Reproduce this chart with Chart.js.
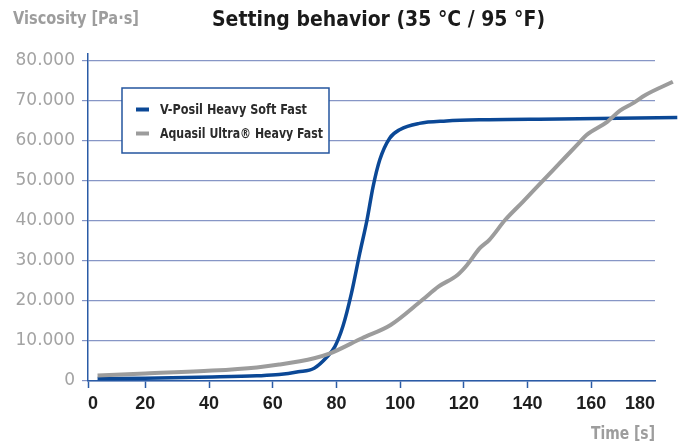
<!DOCTYPE html>
<html>
<head>
<meta charset="utf-8">
<script src="https://cdn.jsdelivr.net/npm/chart.js@4"></script>
<style>
  html, body { margin: 0; padding: 0; background: #fff; }
  canvas { display: block; }
</style>
</head>
<body>
<canvas id="graph" width="681" height="443"></canvas>
<script>
// values
const seriesNames = ['V-Posil Heavy Soft Fast', 'Aquasil Ultra® Heavy Fast'];

const vposilTime = [5, 20, 41, 55, 62, 68, 73, 77, 79.5, 82, 84.7, 87.3, 89.6, 91.5, 93.6, 96.7, 100, 106, 114.5, 125, 150, 187];
const vposilViscosity = [600, 700, 1000, 1300, 1600, 2300, 3200, 6000, 8600, 13600, 21900, 31900, 40300, 48600, 55300, 60700, 62900, 64400, 65000, 65300, 65500, 65900];

const aquasilTime = [5, 20, 41, 55, 62, 73, 78, 88, 97, 107, 112, 118, 121, 125, 128, 133, 138.5, 144, 150, 156, 158.5, 165, 169, 173, 177, 185.6];
const aquasilViscosity = [1400, 1900, 2600, 3400, 4100, 5700, 6900, 10700, 14000, 20300, 23600, 26500, 29000, 33200, 35300, 40300, 44800, 49400, 54400, 59400, 61500, 64800, 67600, 69400, 71500, 74800];

// the original axis starts a little after 0 but still labels it "0"
const xTickValues = [2, 20, 40, 60, 80, 100, 120, 140, 160, 180];
const xTickLabels = ['0', '20', '40', '60', '80', '100', '120', '140', '160', '180'];
const yTickValues = [0, 10000, 20000, 30000, 40000, 50000, 60000, 70000, 80000];

const BLUE = '#0b4896';
const GREY = '#9c9c9c';
const AXIS_BLUE = '#2a5ba6';
const GRID = '#8796c6';
const NARROW = '"Liberation Sans Narrow", "DejaVu Sans Condensed", sans-serif';

const fmtThousands = (v) => String(v).replace(/\B(?=(\d{3})+(?!\d))/g, '.');

// the original uses a condensed face; squeeze the text to the width it has there
function fitText(ctx, text, x, y, width, align) {
  const w = ctx.measureText(text).width;
  const sx = width / w;
  ctx.save();
  ctx.textAlign = 'left';
  ctx.translate(align === 'right' ? x - width : x, y);
  ctx.scale(sx, 1);
  ctx.fillText(text, 0, 0);
  ctx.restore();
}

const textPlugin = {
  id: 'texts',
  afterDraw(chart) {
    const ctx = chart.ctx;
    ctx.save();
    ctx.textBaseline = 'middle';
    ctx.font = 'bold 17px ' + NARROW;
    ctx.fillStyle = '#9d9d9d';
    fitText(ctx, 'Viscosity [Pa·s]', 13, 20, 126);
    fitText(ctx, 'Time [s]', chart.chartArea.right, 435, 64, 'right');
    ctx.font = 'bold 22px ' + NARROW;
    ctx.fillStyle = '#1a1a1a';
    fitText(ctx, 'Setting behavior (35 °C / 95 °F)', 212, 20, 333);
    ctx.restore();
  }
};

const legendWidths = [147, 163];

const legendBox = {
  id: 'legendBox',
  afterDraw(chart) {
    const ctx = chart.ctx;
    const x = 122, y = 88, w = 207, h = 65;
    ctx.save();
    ctx.fillStyle = '#fff';
    ctx.fillRect(x, y, w, h);
    ctx.strokeStyle = '#24559f';
    ctx.lineWidth = 1.5;
    ctx.strokeRect(x, y, w, h);
    ctx.font = 'bold 14.5px ' + NARROW;
    ctx.textBaseline = 'middle';
    chart.data.datasets.forEach((ds, i) => {
      const ly = y + 21.5 + i * 24;
      ctx.strokeStyle = ds.borderColor;
      ctx.lineWidth = 4;
      ctx.beginPath();
      ctx.moveTo(136, ly);
      ctx.lineTo(149, ly);
      ctx.stroke();
      ctx.fillStyle = '#2b2b2b';
      fitText(ctx, ds.label, 160, ly + 1, legendWidths[i]);
    });
    ctx.restore();
  }
};

const toPoints = (xs, ys) => xs.map((t, i) => ({ x: t, y: ys[i] }));

new Chart(document.getElementById('graph'), {
  type: 'line',
  data: {
    datasets: [
      {
        label: seriesNames[0],
        data: toPoints(vposilTime, vposilViscosity),
        borderColor: BLUE,
        borderWidth: 3.5,
        pointRadius: 0,
        cubicInterpolationMode: 'monotone',
        clip: false,
        order: 1,
      },
      {
        label: seriesNames[1],
        data: toPoints(aquasilTime, aquasilViscosity),
        borderColor: GREY,
        borderWidth: 4,
        pointRadius: 0,
        cubicInterpolationMode: 'monotone',
        clip: false,
        order: 0,
      },
    ],
  },
  options: {
    responsive: false,
    animation: false,
    devicePixelRatio: 1,
    layout: { padding: { top: 54, left: 0, right: 26, bottom: 0 } },
    plugins: { legend: { display: false }, tooltip: { enabled: false }, title: { display: false } },
    scales: {
      x: {
        type: 'linear',
        min: 2,
        max: 180,
        afterBuildTicks: (scale) => { scale.ticks = xTickValues.map((v) => ({ value: v })); },
        afterFit: (scale) => { scale.height = 62; },
        border: { color: AXIS_BLUE, width: 1.5 },
        grid: {
          drawOnChartArea: false,
          tickLength: 7,
          tickWidth: 1.5,
          tickColor: (c) => (c.index === xTickValues.length - 1 ? 'rgba(0,0,0,0)' : AXIS_BLUE),
        },
        ticks: {
          autoSkip: false,
          maxRotation: 0,
          align: 'inner',
          padding: 5,
          color: '#1e1e1e',
          font: { family: '"Liberation Sans", Arial, sans-serif', size: 18, weight: 'bold' },
          callback: (v, i) => xTickLabels[i],
        },
      },
      y: {
        min: 0,
        max: 81750,
        afterBuildTicks: (scale) => { scale.ticks = yTickValues.map((v) => ({ value: v })); },
        afterFit: (scale) => { scale.width = 88; },
        border: { color: AXIS_BLUE, width: 1.5 },
        grid: { color: GRID, lineWidth: 1.2, tickLength: 6 },
        ticks: {
          padding: 7,
          color: '#a3a3a3',
          font: { family: '"DejaVu Sans", sans-serif', size: 17 },
          callback: (v) => fmtThousands(v),
        },
      },
    },
  },
  plugins: [textPlugin, legendBox],
});
</script>
</body>
</html>
